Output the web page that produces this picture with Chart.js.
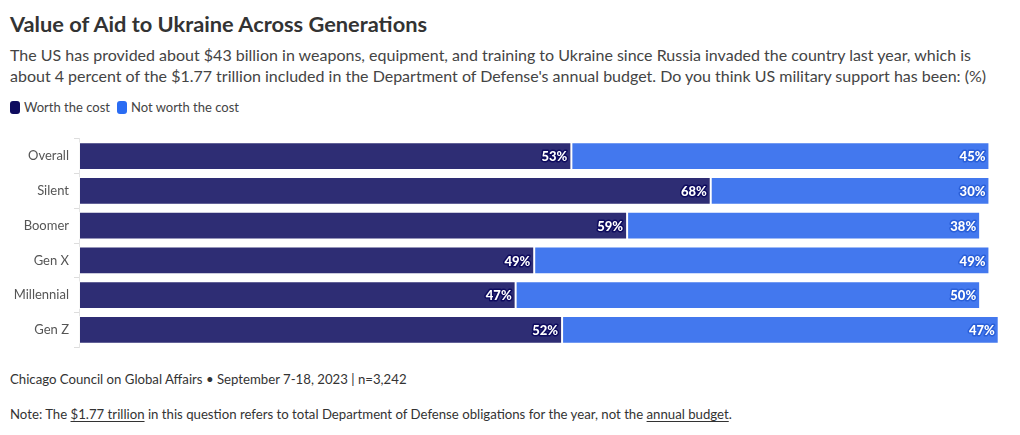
<!DOCTYPE html>
<html>
<head>
<meta charset="utf-8">
<script src="https://cdn.jsdelivr.net/npm/chart.js@4.4.1/dist/chart.umd.min.js"></script>
<style>
  html, body { margin:0; padding:0; background:#fff; width:1020px; height:435px; overflow:hidden; }
  body { font-family: "Source Sans Pro", Lato, "Noto Sans", sans-serif; position:relative; }
  #title { position:absolute; left:10px; top:10px; font-size:21.8px; font-weight:700; color:#333; white-space:nowrap; }
  #sub { position:absolute; left:10px; top:44px; font-size:16px; line-height:21px; color:#444; white-space:nowrap; }
  #legend { position:absolute; left:10px; top:99px; font-size:13px; color:#444; white-space:nowrap; display:flex; align-items:center; }
  .sw { display:inline-block; width:10px; height:13px; border-radius:3px; margin-right:4px; }
  .item { display:flex; align-items:center; margin-right:7px; }
  #wrap { position:absolute; left:0; top:126px; width:1020px; height:234px; }
  #src { position:absolute; left:10px; top:371px; font-size:13.2px; color:#333; white-space:nowrap; }
  #note { position:absolute; left:10px; top:406px; font-size:13.2px; color:#333; white-space:nowrap; }
  #note u { text-underline-offset:2px; }
</style>
</head>
<body>
<div id="title">Value of Aid to Ukraine Across Generations</div>
<div id="sub">The US has provided about $43 billion in weapons, equipment, and training to Ukraine since Russia invaded the country last year, which is<br>about 4 percent of the $1.77 trillion included in the Department of Defense's annual budget. Do you think US military support has been: (%)</div>
<div id="legend"></div>
<div id="wrap"><canvas id="c" width="1020" height="234"></canvas></div>
<div id="src">Chicago Council on Global Affairs • September 7-18, 2023 | n=3,242</div>
<div id="note">Note: The <u>$1.77 trillion</u> in this question refers to total Department of Defense obligations for the year, not the <u>annual budget</u>.</div>
<script>
const categories = ["Overall", "Silent", "Boomer", "Gen X", "Millennial", "Gen Z"];
const worthTheCost = [53, 68, 59, 49, 47, 52];
const notWorthTheCost = [45, 30, 38, 49, 50, 47];
const seriesNames = ["Worth the cost", "Not worth the cost"];

const barColors = ["#2e2d74", "#4378ee"];
const swatchColors = ["#0e0b5e", "#2a6cf3"];
const outlineColors = ["#0e0b5e", "#2a5fd8"];

const legend = document.getElementById('legend');
seriesNames.forEach((n, i) => {
  const it = document.createElement('span');
  it.className = 'item';
  it.innerHTML = '<span class="sw" style="background:' + swatchColors[i] + '"></span>' + n;
  legend.appendChild(it);
});

const labelPlugin = {
  id: 'endLabels',
  afterDatasetsDraw(chart) {
    const ctx = chart.ctx;
    ctx.save();
    ctx.font = '900 13px "Source Sans Pro", Lato, "Noto Sans", sans-serif';
    ctx.textAlign = 'right';
    ctx.textBaseline = 'middle';
    ctx.lineJoin = 'round';
    chart.data.datasets.forEach((ds, di) => {
      const meta = chart.getDatasetMeta(di);
      meta.data.forEach((bar, i) => {
        const txt = ds.data[i] + '%';
        const x = bar.x - 4;
        const y = bar.y + 1;
        ctx.lineWidth = 3;
        ctx.strokeStyle = outlineColors[di];
        ctx.strokeText(txt, x, y);
        ctx.fillStyle = '#fff';
        ctx.fillText(txt, x, y);
      });
    });
    ctx.restore();
  }
};

new Chart(document.getElementById('c'), {
  type: 'bar',
  data: {
    labels: categories,
    datasets: [
      { label: seriesNames[0], data: worthTheCost, backgroundColor: barColors[0], borderColor: 'rgba(255,255,255,0.75)', borderWidth: 1, borderSkipped: false, barPercentage: 0.8, categoryPercentage: 1 },
      { label: seriesNames[1], data: notWorthTheCost, backgroundColor: barColors[1], borderColor: 'rgba(255,255,255,0.75)', borderWidth: 1, borderSkipped: false, barPercentage: 0.8, categoryPercentage: 1 }
    ]
  },
  options: {
    indexAxis: 'y',
    responsive: false,
    animation: false,
    devicePixelRatio: 1,
    layout: { padding: { top: 8, bottom: 7, left: 0, right: 12 } },
    plugins: { legend: { display: false }, tooltip: { enabled: false } },
    scales: {
      x: { stacked: true, min: 0, max: 100, display: false },
      y: {
        stacked: true,
        afterFit(scale) { scale.width = 79; },
        grid: { drawOnChartArea: false, color: '#ddd', tickLength: 5, tickWidth: 1 },
        border: { display: true, color: '#e4e4e4' },
        ticks: { color: '#555', font: { size: 13, family: '"Source Sans Pro", Lato, "Noto Sans", sans-serif' }, padding: 5 }
      }
    }
  },
  plugins: [labelPlugin]
});
</script>
</body>
</html>
